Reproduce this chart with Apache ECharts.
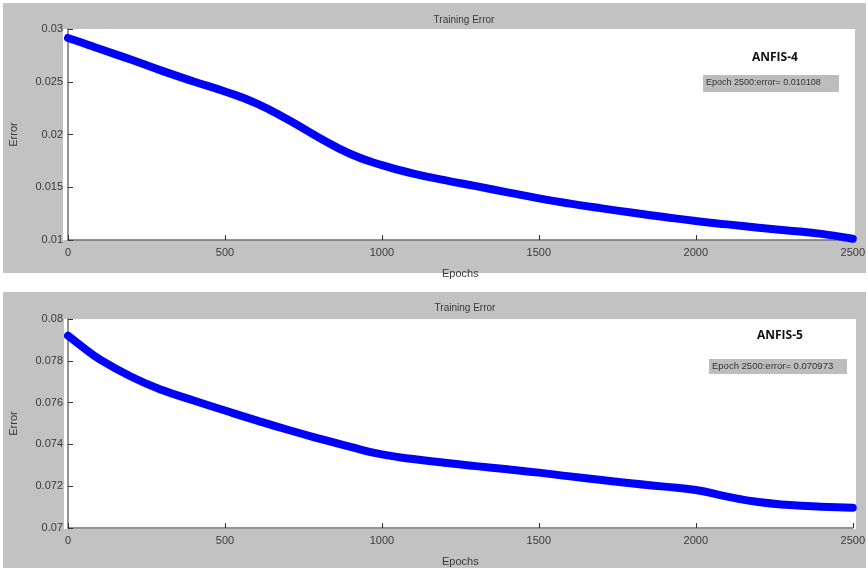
<!DOCTYPE html>
<html>
<head>
<meta charset="utf-8">
<script src="https://cdn.jsdelivr.net/npm/echarts@6/dist/echarts.min.js"></script>
<style>
html,body{margin:0;padding:0;background:#fff;}
#c{width:868px;height:568px;}
</style>
</head>
<body>
<div id="c"></div>
<script>
var epochs = [0,50,100,200,300,400,500,600,700,800,900,1000,1100,1200,1300,1400,1500,1600,1700,1800,1900,2000,2100,2200,2300,2400,2500];
var errAnfis4 = [0.02915,0.02865,0.02812,0.02710,0.02603,0.02503,0.02408,0.02295,0.02142,0.01970,0.01815,0.01710,0.01630,0.01568,0.01510,0.01452,0.01395,0.01345,0.01300,0.01258,0.01218,0.01180,0.01148,0.01117,0.01088,0.01058,0.01012];
var errAnfis5 = [0.07920,0.07862,0.07808,0.07725,0.07660,0.07610,0.07562,0.07515,0.07470,0.07428,0.07388,0.07352,0.07330,0.07312,0.07296,0.07281,0.07265,0.07247,0.07230,0.07213,0.07198,0.07182,0.07150,0.07124,0.07110,0.07102,0.07097];
var xTicks = [0,500,1000,1500,2000,2500];
var yTicks4 = [0.01,0.015,0.02,0.025,0.03];
var yTicks5 = [0.07,0.072,0.074,0.076,0.078,0.08];
var titles = ['Training Error','Training Error'];
var modelNames = ['ANFIS-4','ANFIS-5'];
var finalNotes = ['Epoch 2500:error= 0.010108','Epoch 2500:error= 0.070973'];
var xName = 'Epochs';
var yName = 'Error';

function pairs(v){ return epochs.map(function(e,i){ return [e, v[i]]; }); }
var FONT = 'Liberation Sans';
var lblColor = '#3a3a3a';

function xAxisCfg(gi){
  return {
    gridIndex: gi, type:'value', min: xTicks[0], max: xTicks[xTicks.length-1], interval: xTicks[1]-xTicks[0],
    name: xName, nameLocation:'middle', nameGap: 28,
    nameTextStyle:{color:lblColor, fontSize:11, fontFamily:FONT},
    axisLine:{show:true, onZero:false, lineStyle:{color:'#707070', width:1.5}},
    axisTick:{show:true, inside:true, length:5, lineStyle:{color:'#333', width:1}},
    axisLabel:{color:lblColor, fontSize:11, fontFamily:FONT, margin:7,
      formatter:function(v){ return String(Math.round(v)); }},
    splitLine:{show:false}
  };
}
function yAxisCfg(gi, ticks){
  var iv = ticks[1]-ticks[0];
  return {
    gridIndex: gi, type:'value', min: ticks[0], max: ticks[ticks.length-1], interval: iv,
    name: yName, nameLocation:'middle', nameGap: 49, nameRotate: 90,
    nameTextStyle:{color:lblColor, fontSize:11, fontFamily:FONT},
    axisLine:{show:true, onZero:false, lineStyle:{color:'#707070', width:1.5}},
    axisTick:{show:true, inside:true, length:5, lineStyle:{color:'#333', width:1}},
    axisLabel:{color:lblColor, fontSize:11, fontFamily:FONT, margin:5,
      formatter:function(v){ return String(parseFloat(v.toFixed(4))); }},
    splitLine:{show:false}
  };
}

var chart = echarts.init(document.getElementById('c'), null, {renderer:'canvas'});
chart.setOption({
  backgroundColor:'#ffffff',
  animation:false,
  graphic:[
    {type:'rect', z:-10, silent:true, shape:{x:3,y:3,width:863,height:270}, style:{fill:'#c2c2c2'}},
    {type:'rect', z:-10, silent:true, shape:{x:3,y:292,width:863,height:276}, style:{fill:'#c2c2c2'}},
    {type:'rect', z:-5, silent:true, shape:{x:63,y:29,width:792,height:211}, style:{fill:'#ffffff'}},
    {type:'rect', z:-5, silent:true, shape:{x:64,y:319,width:792,height:210}, style:{fill:'#ffffff'}},
    {type:'text', z:10, left:752, top:52, style:{text:modelNames[0], fill:'#111', font:'bold 12px "Open Sans"'}},
    {type:'rect', z:10, shape:{x:703,y:75,width:136,height:17}, style:{fill:'#bdbdbd'}},
    {type:'text', z:11, left:706, top:78, style:{text:finalNotes[0], fill:'#333', font:'9px "Liberation Sans"'}},
    {type:'text', z:10, left:757, top:330, style:{text:modelNames[1], fill:'#111', font:'bold 12px "Open Sans"'}},
    {type:'rect', z:10, shape:{x:709,y:359,width:138,height:15}, style:{fill:'#bdbdbd'}},
    {type:'text', z:11, left:712, top:361, style:{text:finalNotes[1], fill:'#333', font:'9.5px "Liberation Sans"'}}
  ],
  title:[
    {text:titles[0], left:459, top:10, textAlign:'center', textStyle:{color:lblColor, fontSize:10, fontWeight:'normal', fontFamily:FONT}},
    {text:titles[1], left:460, top:298, textAlign:'center', textStyle:{color:lblColor, fontSize:10, fontWeight:'normal', fontFamily:FONT}}
  ],
  grid:[
    {left:63, top:29, width:792, height:211},
    {left:64, top:319, width:792, height:210}
  ],
  xAxis:[xAxisCfg(0), xAxisCfg(1)],
  yAxis:[yAxisCfg(0, yTicks4), yAxisCfg(1, yTicks5)],
  series:[
    {type:'line', xAxisIndex:0, yAxisIndex:0, data:pairs(errAnfis4), smooth:0.5, symbol:'none',
      lineStyle:{color:'#0000ff', width:8, cap:'round', join:'round'}, clip:false},
    {type:'line', xAxisIndex:1, yAxisIndex:1, data:pairs(errAnfis5), smooth:0.5, symbol:'none',
      lineStyle:{color:'#0000ff', width:8, cap:'round', join:'round'}, clip:false}
  ]
});
</script>
</body>
</html>
